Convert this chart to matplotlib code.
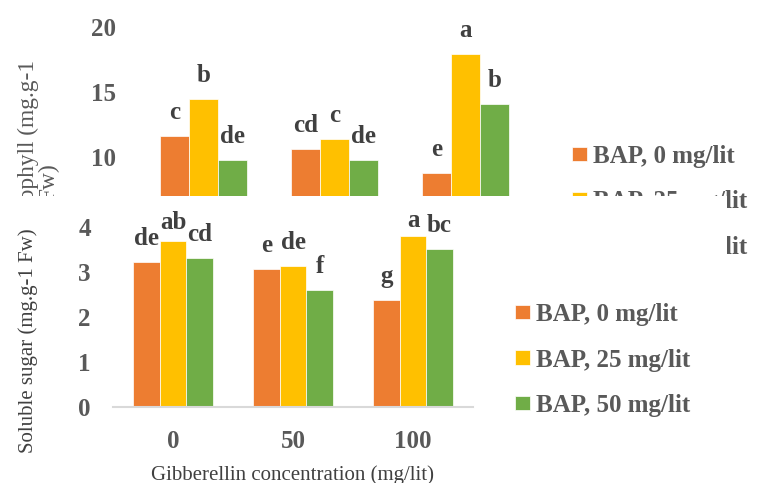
import numpy as np
import matplotlib
matplotlib.use('Agg')
import matplotlib.pyplot as plt
from matplotlib.patches import Rectangle

# gibberellin levels (x categories) and BAP treatments (series)
ga_levels = ['0', '50', '100']
bap_names = ['BAP, 0 mg/lit', 'BAP, 25 mg/lit', 'BAP, 50 mg/lit']
bap_colors = ['#ED7D31', '#FFC000', '#70AD47']

# total chlorophyll, mg/g FW
chl_bap0 = [11.6, 10.6, 8.8]
chl_bap25 = [14.5, 11.4, 17.9]
chl_bap50 = [9.8, 9.8, 14.1]
chl_letters = [['c', 'cd', 'e'], ['b', 'c', 'a'], ['de', 'de', 'b']]

# soluble sugar, mg/g FW
sug_bap0 = [3.21, 3.06, 2.37]
sug_bap25 = [3.69, 3.13, 3.79]
sug_bap50 = [3.30, 2.60, 3.50]
sug_letters = [['de', 'e', 'g'], ['ab', 'de', 'a'], ['cd', 'f', 'bc']]

serif = 'Liberation Serif'
tick_col = '#595959'
lab_col = '#404040'
fs = 18
bw = 0.222

fig = plt.figure(figsize=(7.59, 4.83), dpi=100)


def bars(ax, series, letters, lift):
    x = np.arange(len(ga_levels))
    for k, vals in enumerate(series):
        xs = x + (k - 1) * bw
        ax.bar(xs, vals, width=bw, color=bap_colors[k], edgecolor='white',
               linewidth=0.5, label=bap_names[k])
        for i, v in enumerate(vals):
            ax.annotate(letters[k][i], (xs[i], v), xytext=(0, lift.get((k, i), 12.2)),
                        textcoords='offset points', ha='center', va='baseline',
                        fontsize=fs, fontweight='bold', family=serif, color=lab_col,
                        annotation_clip=False)
    ax.set_xlim(-0.5, len(ga_levels) - 0.5)
    ax.set_xticks(x)
    ax.set_xticklabels(ga_levels)
    for s in ['top', 'right', 'left']:
        ax.spines[s].set_visible(False)
    ax.spines['bottom'].set_color('#D9D9D9')
    ax.spines['bottom'].set_linewidth(1.5)
    ax.tick_params(length=0, labelsize=fs, labelcolor=tick_col)
    ax.tick_params(axis='y', pad=16)
    ax.tick_params(axis='x', pad=16)
    for t in ax.get_xticklabels() + ax.get_yticklabels():
        t.set_fontweight('bold')
        t.set_family(serif)


def legend(ax, x, y):
    ax.legend(loc='upper left', bbox_to_anchor=(x, y), bbox_transform=fig.transFigure,
              frameon=False, borderpad=0, borderaxespad=0, handlelength=0.58,
              handleheight=0.52, handletextpad=0.25, labelspacing=0.9,
              labelcolor=tick_col, prop={'family': serif, 'weight': 'bold', 'size': fs})


# chlorophyll panel (partly hidden behind the sugar panel)
ax1 = fig.add_axes([138.5 / 759, 1 - 287 / 483, 392.5 / 759, 260 / 483])
bars(ax1, [chl_bap0, chl_bap25, chl_bap50], chl_letters, {})
ax1.set_ylim(0, 20)
ax1.set_yticks([0, 5, 10, 15, 20])
# two-line axis title, wrapped as in the original sheet
ax1.text(28 / 759, 1 - 60 / 483, 'Total chlorophyll (mg.g-1', transform=fig.transFigure,
         rotation=90, ha='center', va='top', family=serif, fontsize=16.8, color=tick_col)
ax1.text(49 / 759, 1 - 163 / 483, 'Fw)', transform=fig.transFigure,
         rotation=90, ha='center', va='top', family=serif, fontsize=16.8, color=tick_col)
legend(ax1, 572 / 759, 1 - 145 / 483)

# white sheet of the sugar panel
fig.add_artist(Rectangle((0, 0), 727 / 759, 1 - 196 / 483, transform=fig.transFigure,
                         facecolor='white', edgecolor='none', zorder=1))

# soluble sugar panel
ax2 = fig.add_axes([113 / 759, 1 - 407.3 / 483, 360 / 759, 180.8 / 483])
ax2.set_zorder(2)
ax2.patch.set_alpha(0)
bars(ax2, [sug_bap0, sug_bap25, sug_bap50], sug_letters, {(1, 0): 8, (1, 2): 6.5})
ax2.set_ylim(0, 4)
ax2.set_yticks([0, 1, 2, 3, 4])
ax2.set_ylabel('Soluble sugar (mg.g-1 Fw)', family=serif, fontsize=15,
               color=lab_col, va='center')
ax2.yaxis.set_label_coords(28 / 759, 1 - 341 / 483, transform=fig.transFigure)
ax2.set_xlabel('Gibberellin concentration (mg/lit)', family=serif, fontsize=15,
               color=lab_col, va='baseline')
ax2.xaxis.set_label_coords(292.5 / 759, 1 - 480 / 483, transform=fig.transFigure)
legend(ax2, 515 / 759, 1 - 303 / 483)

fig.savefig('out.png', dpi=100)
